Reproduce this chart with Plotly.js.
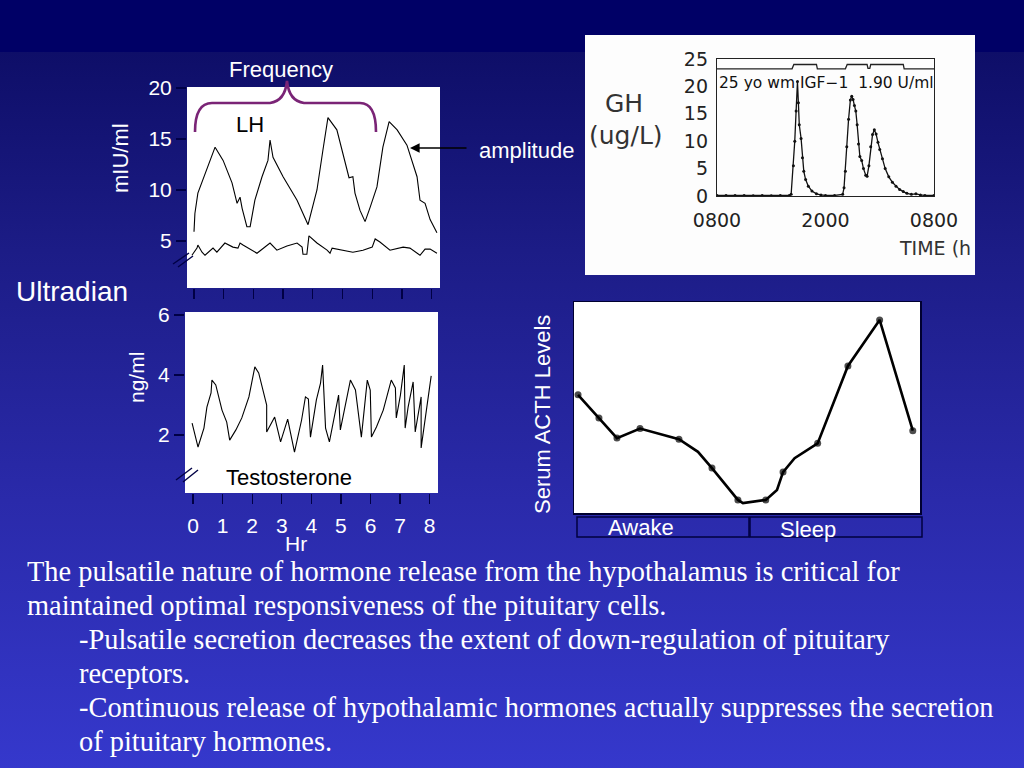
<!DOCTYPE html>
<html>
<head>
<meta charset="utf-8">
<script src="https://cdn.plot.ly/plotly-3.0.1.min.js"></script>
<style>
html,body{margin:0;padding:0;width:1024px;height:768px;overflow:hidden;}
body{background:linear-gradient(to bottom,#000066 0px,#000066 52px,#0e0e68 52px,#1c1c86 250px,#2a2aaa 500px,#3538cc 768px);}
#chart{width:1024px;height:768px;}
</style>
</head>
<body>
<div id="chart"></div>
<script>
// ---- LH panel (hours, mIU/ml) ----
const lhHours = [0.0,0.03,0.13,0.44,0.71,0.98,1.28,1.45,1.55,1.62,1.78,1.89,2.05,2.29,2.49,2.56,2.66,3.0,3.47,3.84,4.14,4.34,4.51,4.81,5.02,5.22,5.35,5.42,5.59,5.76,5.93,6.16,6.36,6.57,6.84,7.17,7.51,7.61,7.78,7.95,8.18];
const lhValues = [5.9,7.7,9.7,12.0,14.2,12.9,10.7,8.7,9.3,8.2,6.4,6.4,9.0,11.3,12.9,14.9,13.2,11.3,9.0,6.6,10.0,13.9,17.1,15.9,13.6,11.2,11.3,9.7,8.0,6.9,8.3,10.3,14.2,16.7,15.9,14.4,11.3,9.0,8.7,7.1,5.8];
const lowHours = [-0.07,0.1,0.13,0.27,0.37,0.54,0.64,0.77,1.04,1.31,1.48,1.55,1.65,2.12,2.56,2.79,3.13,3.47,3.64,3.67,3.8,3.87,4.14,4.48,4.58,4.65,5.02,5.35,5.69,6.0,6.1,6.26,6.6,7.04,7.27,7.51,7.61,7.78,7.95,8.18];
const lowValues = [3.6,4.3,4.6,3.9,3.6,4.1,4.3,3.9,4.8,4.4,4.3,4.8,4.6,3.8,4.8,4.1,4.5,4.8,4.4,3.7,3.7,5.5,4.8,4.1,3.8,4.3,4.1,3.9,4.1,4.4,5.2,4.9,4.1,4.4,4.3,3.8,3.6,4.2,4.2,3.8];
const lhTicks = [5,10,15,20];

// ---- Testosterone panel (hours, ng/ml) ----
const tHours = [-0.03,0.17,0.37,0.47,0.61,0.64,0.77,0.98,1.14,1.24,1.45,1.65,1.89,2.09,2.22,2.46,2.49,2.49,2.76,2.96,3.2,3.43,3.67,3.8,3.9,3.97,4.17,4.31,4.38,4.48,4.61,4.92,4.98,5.32,5.49,5.69,5.89,5.99,6.03,6.2,6.43,6.7,6.84,6.87,7.01,7.14,7.17,7.27,7.44,7.51,7.71,7.71,8.05];
const tValues = [2.4,1.6,2.23,2.93,3.4,3.83,3.67,2.83,2.43,1.83,2.17,2.57,3.27,4.27,4.07,3.17,3.0,2.1,2.6,1.77,2.53,1.43,2.5,3.27,3.2,1.93,3.17,3.73,4.33,2.23,1.77,3.33,2.17,3.83,3.5,1.93,3.83,3.5,1.93,2.27,2.83,3.83,3.57,2.57,3.33,4.33,2.23,2.93,3.77,2.1,3.27,1.57,3.97];
const hourTicks = [0,1,2,3,4,5,6,7,8];
const hourLabels = ['0','1','2','3','4','5','6','7','8'];
const tTicks = [2,4,6];

// ---- GH panel (hours after 0800, ug/L) ----
const ghHours = [0,1,2,3,4,5,6,7,8.0,8.2,8.45,8.6,8.75,8.9,9.0,9.1,9.3,9.45,9.6,9.8,10.1,10.5,11.0,11.5,12,13,13.9,14.05,14.2,14.35,14.55,14.75,14.9,15.05,15.2,15.35,15.5,15.65,15.8,16.0,16.2,16.45,16.6,16.8,17.0,17.2,17.4,17.6,17.8,18.0,18.3,18.6,19.0,19.4,19.8,20.2,20.6,21.0,21.5,22,22.5,23,24];
const ghValues = [0.1,0.1,0.1,0.1,0.05,0.1,0.05,0.1,0.1,0.3,5.5,10,15.5,20.9,17,13,10.5,7,4.5,3,1.8,0.9,0.4,0.2,0.1,0.1,0.3,1.5,4.5,9,14,17.5,18.2,17.6,16.5,15.5,13,9.5,7.2,6.5,5,3.8,3.6,5.5,9,11.2,12.1,11.3,9.8,8.5,6.8,5,3.5,2.5,1.8,1.2,0.8,0.5,0.3,0.4,0.2,0.1,0.1];
const sleepBarHours = [0,8.3,8.5,11.0,11.1,14.2,14.4,16.6,16.7,16.9,17.0,20.6,20.7,24];
const sleepBarLevel = [23.2,23.2,24.0,24.0,23.2,23.2,24.0,24.0,23.3,23.3,24.0,24.0,23.2,23.2];
const ghTicks = [0,5,10,15,20,25];
const timeTicks = [0,12,24];
const timeLabels = ['0800','2000','0800'];

// ---- ACTH panel (hours, relative level) ----
const acthHours = [0.28,1.73,2.98,4.58,7.28,8.6,9.57,11.37,11.72,13.3,14.08,14.5,15.3,16.9,19.0,21.2,23.5];
const acthValues = [5.6,4.5,3.55,4.0,3.5,2.9,2.13,0.62,0.47,0.62,1.09,1.94,2.6,3.3,6.97,9.15,3.9];
const acthDot = [1,1,1,1,1,0,1,1,0,1,0,1,0,1,1,1,1];

const bodyLines = [
  'The pulsatile nature of hormone release from the hypothalamus is critical for',
  'maintained optimal responsiveness of the pituitary cells.',
  '-Pulsatile secretion decreases the extent of down-regulation of pituitary',
  'receptors.',
  '-Continuous release of hypothalamic hormones actually suppresses the secretion',
  'of pituitary hormones.'
];

const W = 1024, H = 768;
const px = x => x / W;
const py = y => 1 - y / H;
const SANS = 'Liberation Sans, Arial, sans-serif';
const NAVY = '#000045';

const traces = [
  {x: lhHours, y: lhValues, xaxis: 'x', yaxis: 'y', mode: 'lines', line: {color: '#000', width: 1.1}, hoverinfo: 'skip'},
  {x: lowHours, y: lowValues, xaxis: 'x', yaxis: 'y', mode: 'lines', line: {color: '#000', width: 1.1}, hoverinfo: 'skip'},
  {x: tHours, y: tValues, xaxis: 'x2', yaxis: 'y2', mode: 'lines', line: {color: '#000', width: 1.1}, hoverinfo: 'skip'},
  {x: sleepBarHours, y: sleepBarLevel, xaxis: 'x3', yaxis: 'y3', mode: 'lines', line: {color: '#222', width: 1.3}, hoverinfo: 'skip'},
  {x: ghHours, y: ghValues, xaxis: 'x3', yaxis: 'y3', mode: 'lines+markers', line: {color: '#111', width: 1.3}, marker: {size: 3, color: '#111'}, hoverinfo: 'skip'},
  {x: acthHours, y: acthValues, xaxis: 'x4', yaxis: 'y4', mode: 'lines+markers', line: {color: '#000', width: 2.6},
   marker: {size: acthDot.map(d => d ? 7 : 0), color: '#000', line: {width: 0}}, hoverinfo: 'skip'}
];

const noAxis = {showgrid: false, zeroline: false, fixedrange: true};

const layout = {
  width: W, height: H,
  margin: {l: 0, r: 0, t: 0, b: 0},
  paper_bgcolor: 'rgba(0,0,0,0)',
  plot_bgcolor: '#ffffff',
  showlegend: false,
  font: {family: SANS, color: '#fff'},
  xaxis: Object.assign({}, noAxis, {domain: [px(187), px(440)], range: [-0.236, 8.283], anchor: 'y',
    tickvals: hourTicks, showticklabels: false, ticks: 'outside', ticklen: 10, tickwidth: 1.3, tickcolor: NAVY}),
  yaxis: Object.assign({}, noAxis, {domain: [py(288), py(87)], range: [0.39, 20.1], anchor: 'x',
    tickvals: lhTicks, ticks: 'outside', ticklen: 10, tickwidth: 1.3, tickcolor: NAVY,
    tickfont: {family: SANS, size: 21, color: '#fff'}}),
  xaxis2: Object.assign({}, noAxis, {domain: [px(185), px(438)], range: [-0.27, 8.28], anchor: 'y2',
    tickvals: hourTicks, ticktext: hourLabels, ticks: 'outside', ticklen: 10, tickwidth: 1.3, tickcolor: NAVY,
    ticklabelstandoff: 4, tickfont: {family: SANS, size: 21, color: '#fff'}}),
  yaxis2: Object.assign({}, noAxis, {domain: [py(493), py(312)], range: [0.067, 6.1], anchor: 'x2',
    tickvals: tTicks, ticks: 'outside', ticklen: 10, tickwidth: 1.3, tickcolor: NAVY,
    tickfont: {family: SANS, size: 21, color: '#fff'}}),
  xaxis3: Object.assign({}, noAxis, {domain: [px(717), px(934)], range: [0, 24], anchor: 'y3',
    tickvals: timeTicks, ticktext: timeLabels, ticks: '', showline: true, mirror: true, linecolor: '#222', linewidth: 1.2,
    ticklabelstandoff: 7, tickfont: {family: 'DejaVu Sans, sans-serif', size: 19, color: '#222'}}),
  yaxis3: Object.assign({}, noAxis, {domain: [py(196), py(59)], range: [0, 25], anchor: 'x3',
    tickvals: ghTicks, ticks: '', showline: true, mirror: true, linecolor: '#222', linewidth: 1.2,
    ticklabelstandoff: 4, tickfont: {family: 'DejaVu Sans, sans-serif', size: 19, color: '#222'}}),
  xaxis4: Object.assign({}, noAxis, {domain: [px(574), px(920)], range: [0, 24], anchor: 'y4',
    showticklabels: false, ticks: '', showline: true, mirror: true, linecolor: '#000030', linewidth: 1.5}),
  yaxis4: Object.assign({}, noAxis, {domain: [py(513), py(302)], range: [0, 10], anchor: 'x4',
    showticklabels: false, ticks: '', showline: true, mirror: true, linecolor: '#000030', linewidth: 1.5}),
  shapes: [],
  annotations: []
};

// GH image background
layout.shapes.push({type: 'rect', xref: 'paper', yref: 'paper', x0: px(585), x1: px(975), y0: py(275), y1: py(35),
  fillcolor: '#fdfdfd', line: {width: 0}, layer: 'below'});

// purple brace
const bp = (x, y) => px(x).toFixed(5) + ',' + py(y).toFixed(5);
layout.shapes.push({type: 'path', xref: 'paper', yref: 'paper',
  path: 'M' + bp(195, 132) + ' Q' + bp(195, 103) + ' ' + bp(212, 103) + ' L' + bp(270, 103) +
        ' Q' + bp(285, 101) + ' ' + bp(287, 81) + ' Q' + bp(289, 101) + ' ' + bp(304, 103) +
        ' L' + bp(360, 103) + ' Q' + bp(376, 103) + ' ' + bp(376, 132),
  line: {color: '#7a2476', width: 2.6}});

// axis break marks
[[173, 264, 189, 253], [178, 267, 193, 256], [176, 480, 192, 468], [183, 482, 198, 470]].forEach(s => {
  layout.shapes.push({type: 'line', xref: 'paper', yref: 'paper', x0: px(s[0]), y0: py(s[1]), x1: px(s[2]), y1: py(s[3]),
    line: {color: NAVY, width: 1.4}});
});

// Awake / Sleep boxes
[[577, 749], [750, 922]].forEach(b => {
  layout.shapes.push({type: 'rect', xref: 'paper', yref: 'paper', x0: px(b[0]), x1: px(b[1]), y0: py(537), y1: py(517),
    line: {color: '#000040', width: 1.5}, fillcolor: 'rgba(0,0,0,0)'});
});

function txt(text, x, y, size, opts) {
  layout.annotations.push(Object.assign({text: text, xref: 'paper', yref: 'paper', x: px(x), y: py(y),
    showarrow: false, xanchor: 'center', yanchor: 'middle',
    font: {family: SANS, size: size, color: '#fff'}}, opts || {}));
}

txt('Frequency', 281, 69, 22);
txt('LH', 250, 125, 22, {font: {family: SANS, size: 22, color: '#000'}});
txt('amplitude', 526, 150, 22);
txt('Ultradian', 72, 291, 28);
txt('mIU/ml', 121, 158, 22, {textangle: -90});
txt('ng/ml', 136, 378, 21, {textangle: -90});
txt('Testosterone', 289, 477, 22, {font: {family: SANS, size: 22, color: '#000'}});
txt('Hr', 296, 543, 21);
txt('Serum ACTH Levels', 542, 415, 22, {textangle: -90});
txt('Awake', 641, 527, 22);
txt('Sleep', 808, 529, 22);

// GH figure labels
const GHF = 'DejaVu Sans, sans-serif';
txt('GH', 624, 103, 25, {font: {family: GHF, size: 25, color: '#333'}});
txt('(ug/L)', 626, 135, 25, {font: {family: GHF, size: 25, color: '#333'}});
txt('TIME (h', 897, 248, 19, {xanchor: 'left', font: {family: GHF, size: 19, color: '#333'}});
txt('25 yo wm IGF\u22121  1.90 U/ml', 717, 83, 15.5, {xanchor: 'left', font: {family: GHF, size: 15.5, color: '#111'}});

// amplitude arrow
layout.annotations.push({xref: 'paper', yref: 'paper', x: px(410), y: py(148), ax: 58, ay: 0, axref: 'pixel', ayref: 'pixel',
  text: '', showarrow: true, arrowhead: 2, arrowsize: 1.2, arrowwidth: 1.6, arrowcolor: '#000'});

// body text
const bodyPos = [[25, 571], [25, 605], [77, 639], [77, 673], [77, 707], [77, 741]];
bodyLines.forEach((line, i) => {
  txt(line, bodyPos[i][0], bodyPos[i][1], 28.4, {xanchor: 'left',
    font: {family: 'Liberation Serif, Times New Roman, serif', size: 28.4, color: '#fff'}});
});

Plotly.newPlot('chart', traces, layout, {staticPlot: true});
</script>
</body>
</html>
